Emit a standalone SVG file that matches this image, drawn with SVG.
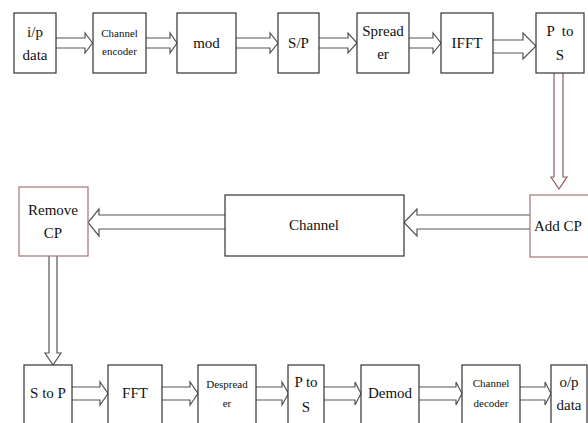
<svg xmlns="http://www.w3.org/2000/svg" width="588" height="423" viewBox="0 0 588 423">
<style>
.b{fill:#fff;stroke:#333;stroke-width:1.2}
.br{fill:#fff;stroke:#a07676;stroke-width:1.2}
.t{font-family:'Liberation Serif','Times New Roman','DejaVu Serif',serif;font-size:15px;fill:#111;text-anchor:middle}
.s{font-size:11px}
.a{fill:#fff;stroke:#555;stroke-width:1.2;stroke-linejoin:miter}
.ar{fill:#fff;stroke:#8c5c5c;stroke-width:1.2}
</style>
<rect width="588" height="423" fill="#fff"/>
<g id="connectors">
<path class="a" d="M56,38H85V33L92.5,43L85,53V48H56"/>
<path class="a" d="M146,38H170V33L177,43L170,53V48H146"/>
<path class="a" d="M236,38H270V33L278,43L270,53V48H236"/>
<path class="a" d="M319,38H348V33L357,43L348,53V48H319"/>
<path class="a" d="M409,38H433V33L441,43L433,53V48H409"/>
<path class="a" d="M493,40H523V33L536,46L523,59V53H493"/>
<path class="ar" d="M554,73V177H551L559,189L567,177H563V73"/>
<path class="a" d="M530,215H417V209L404,222.5L417,236V229H530"/>
<path class="a" d="M225,215H99V209L88,222.5L99,236V229H225"/>
<path class="a" d="M49,256V353H45L53,365L61,353H57V256"/>
<path class="a" d="M72,387H100V382L108,393.5L100,405V400H72"/>
<path class="a" d="M162,387H190V382L198,393.5L190,405V400H162"/>
<path class="a" d="M256,387H282V382L288.5,393.5L282,405V400H256"/>
<path class="a" d="M324,387H355V382L361,393.5L355,405V400H324"/>
<path class="a" d="M419,387H456V382L462,393.5L456,405V400H419"/>
<path class="a" d="M520,387H545V382L551,393.5L545,405V400H520"/>
</g>
<g id="ip"><rect class="b" x="14" y="13" width="42" height="60"/><text class="t" x="35" y="37">i/p</text><text class="t" x="35" y="60">data</text></g>
<g id="chenc"><rect class="b" x="93" y="13" width="53" height="60"/><text class="t s" x="119.5" y="37">Channel</text><text class="t s" x="119.5" y="55">encoder</text></g>
<g id="mod"><rect class="b" x="177" y="13" width="59" height="60"/><text class="t" x="206.5" y="48">mod</text></g>
<g id="sp"><rect class="b" x="278" y="13" width="41" height="60"/><text class="t" x="298.5" y="48">S/P</text></g>
<g id="spreader"><rect class="b" x="357" y="13" width="52" height="60"/><text class="t" x="383" y="36">Spread</text><text class="t" x="383" y="59">er</text></g>
<g id="ifft"><rect class="b" x="441" y="13" width="52" height="60"/><text class="t" x="467" y="48">IFFT</text></g>
<g id="ptos1"><rect class="b" x="536" y="13" width="48" height="60"/><text class="t" x="560" y="36" xml:space="preserve">P  to</text><text class="t" x="560" y="60">S</text></g>
<g id="addcp"><rect class="br" x="530" y="195" width="62" height="62"/><text class="t" x="558" y="231">Add CP</text></g>
<g id="channel"><rect class="b" x="225" y="195" width="179" height="61"/><text class="t" x="314" y="230">Channel</text></g>
<g id="removecp"><rect class="br" x="19" y="187" width="69" height="69"/><text class="t" x="53" y="215">Remove</text><text class="t" x="53" y="238">CP</text></g>
<g id="stop"><rect class="b" x="24" y="365" width="48" height="70"/><text class="t" x="48" y="398">S to P</text></g>
<g id="fft"><rect class="b" x="108" y="365" width="54" height="70"/><text class="t" x="135" y="398">FFT</text></g>
<g id="despreader"><rect class="b" x="198" y="365" width="58" height="70"/><text class="t s" x="227" y="388">Despread</text><text class="t s" x="227" y="407">er</text></g>
<g id="ptos2"><rect class="b" x="288" y="365" width="36" height="70"/><text class="t" x="306" y="387">P to</text><text class="t" x="306" y="412">S</text></g>
<g id="demod"><rect class="b" x="361" y="365" width="58" height="70"/><text class="t" x="390" y="398">Demod</text></g>
<g id="chdec"><rect class="b" x="462" y="365" width="58" height="70"/><text class="t s" x="491" y="387">Channel</text><text class="t s" x="491" y="407">decoder</text></g>
<g id="op"><rect class="b" x="551" y="365" width="36" height="70"/><text class="t" x="569" y="387">o/p</text><text class="t" x="569" y="410">data</text></g>
</svg>
